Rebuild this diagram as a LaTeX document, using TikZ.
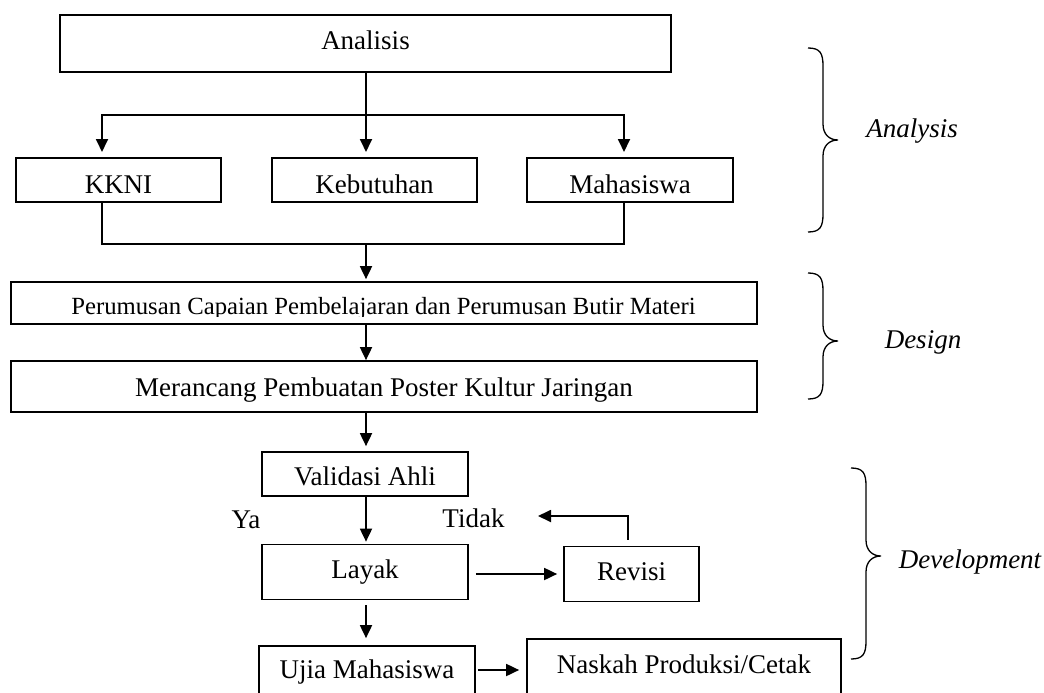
\documentclass[tikz,border=0pt]{standalone}
\usepackage{fontspec}
\setmainfont{Liberation Serif}
\usetikzlibrary{arrows.meta}
\newcommand{\phasebrace}[4]{%
  \draw[brace] (#1,#2) .. controls (#1+12,#2) and (#1+15,#2+5) .. (#1+15,#2+18)
    -- (#1+15,#3-16) .. controls (#1+15,#3-5) and (#1+22,#3) .. (#1+30,#3)
    .. controls (#1+22,#3) and (#1+15,#3+5) .. (#1+15,#3+16)
    -- (#1+15,#4-18) .. controls (#1+15,#4-5) and (#1+12,#4) .. (#1,#4);}
\begin{document}
\begin{tikzpicture}[x=1pt,y=-1pt,
  box/.style={draw, line width=1.7pt, rectangle, inner sep=0pt, font=\fontsize{27}{32}\selectfont},
  lbl/.style={inner sep=0pt, font=\fontsize{27}{32}\selectfont},
  phase/.style={inner sep=0pt, anchor=base, font=\fontsize{27}{32}\selectfont\itshape},
  conn/.style={line width=1.8pt},
  arr/.style={conn, -{Triangle[length=13pt,width=12pt]}},
  brace/.style={line width=1.3pt}]
\clip (0,0) rectangle (1044,693);
\fill[white] (0,0) rectangle (1044,693);

% boxes
\node[box, minimum width=611pt, minimum height=57pt, text height=19pt, text depth=6pt] (ana) at (365.5,43.5) {Analisis};
\node[box, minimum width=205pt, minimum height=44pt, text height=26pt, text depth=0pt] (kkni) at (118.5,180) {KKNI};
\node[box, minimum width=205pt, minimum height=44pt, text height=26pt, text depth=0pt] (keb) at (374.5,180) {Kebutuhan};
\node[box, minimum width=206pt, minimum height=44pt, text height=26pt, text depth=0pt] (mhs) at (630,180) {Mahasiswa};
\node[box, minimum width=746pt, minimum height=42pt] (per) at (384,303) {};
\path (per.south east) ++(0,-8) coordinate (pclip);
\begin{scope}
  \clip (per.north west) rectangle (pclip);
  \node[lbl, anchor=base, font=\fontsize{24.7}{30}\selectfont] (perT) at (383.5,314)
      {Perumusan Capaian Pembelajaran dan Perumusan Butir Materi};
\end{scope}
\node[box, minimum width=746pt, minimum height=51pt, text height=19pt, text depth=0pt] (mer) at (384,386.5)
      {Merancang Pembuatan Poster Kultur Jaringan};
\node[box, minimum width=206pt, minimum height=44pt, text height=22pt, text depth=0pt] (val) at (365,474) {Validasi Ahli};
\node[box, minimum width=206pt, minimum height=55pt, text height=19pt, text depth=6pt] (lay) at (365,572) {Layak};
\node[box, minimum width=135pt, minimum height=55pt, text height=19pt, text depth=6pt] (rev) at (631.5,574) {Revisi};
\node[box, minimum width=216pt, minimum height=48pt, text height=19pt, text depth=3pt] (uji) at (367,670) {Ujia Mahasiswa};
\node[box, minimum width=314pt, minimum height=60pt, text height=19pt, text depth=11pt] (nas) at (684,669) {Naskah Produksi/Cetak};

% labels
\node[lbl] (ya) at (246,520) {Ya};
\node[lbl] (tidak) at (473.5,518.5) {Tidak};
\node[phase] (pa) at (912,137) {Analysis};
\node[phase] (pd) at (923,348) {Design};
\node[phase] (pv) at (970,568) {Development};

% connectors
\coordinate (j1) at (366,115);
\coordinate (kx) at (102,152);
\coordinate (kbx) at (366,152);
\coordinate (mx) at (624,152);
\coordinate (j2) at (366,244);
\coordinate (tA) at (538,516);

\draw[conn] (ana.south -| j1) -- (j1);
\draw[arr] (j1) -| (kx);
\draw[arr] (j1) -- (kbx);
\draw[arr] (j1) -| (mx);
\draw[conn] (kkni.south -| kx) |- (j2) -| (mhs.south -| mx);
\draw[arr, shorten >=2pt] (j2) -- (j2 |- per.north);
\draw[arr] (per.south -| j1) -- (mer.north -| j1);
\draw[arr, shorten >=5pt] (mer.south -| j1) -- (val.north -| j1);
\draw[arr, shorten >=2pt] (val.south -| j1) -- (lay.north -| j1);
\draw[arr, shorten <=5pt, shorten >=7pt] (lay.south -| j1) -- (uji.north -| j1);
\draw[arr, shorten <=7pt, shorten >=6pt] (rev.west -| lay.east) -- (rev.west);
\draw[arr, shorten <=6pt] (rev.north -| 628,0) |- (tA);
\draw[arr, shorten <=2pt, shorten >=7pt] (uji.east) -- (uji.east -| nas.west);

% braces
\phasebrace{808}{48}{140}{232}
\phasebrace{808}{273}{341}{399}
\phasebrace{851}{468}{556}{659}
\end{tikzpicture}
\end{document}
